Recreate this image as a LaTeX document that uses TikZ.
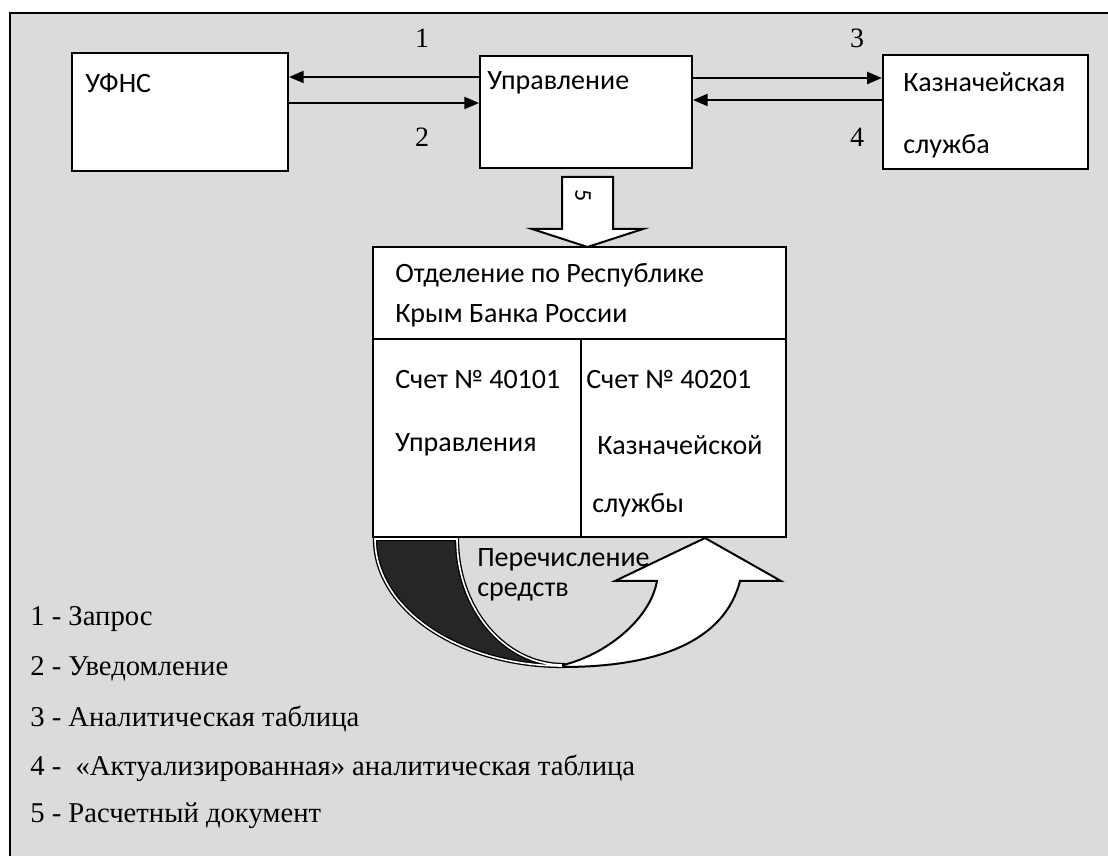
\documentclass[tikz,border=0pt]{standalone}
\usepackage{fontspec}
\setmainfont{Liberation Serif}
\newfontfamily\calfont{Carlito}
\usetikzlibrary{arrows.meta}

\tikzset{
  box/.style={draw, fill=white, line width=1.5pt, minimum width=#1, inner sep=0pt},
  arr/.style={-{Triangle[length=11pt,width=9pt]}, line width=1.6pt},
  txt/.style={font=\calfont\fontsize{21}{25}\selectfont, anchor=west, inner sep=0pt},
  num/.style={font=\fontsize{21}{25}\selectfont, inner sep=0pt},
  leg/.style={font=\fontsize{21.5}{25}\selectfont, anchor=west, inner sep=0pt}
}

\begin{document}
\begin{tikzpicture}[x=0.75pt, y=0.75pt]
  \useasboundingbox (0,0) rectangle (1108,856);
  \fill [black!14] (10,0) rectangle (1108,843);
  \draw [line width=1.5pt, black] (10,0)--(10,843)--(1108,843);

  \node [box=162pt, minimum height=88.5pt] (ufns) at (180,744) {};
  \node [box=159pt, minimum height=84pt] (upr) at (586,744) {};
  \node [box=154pt, minimum height=85pt] (kazn) at (985.5,744) {};
  \node [txt] (ufnst) at (85,773) {УФНС};
  \node [txt] (uprt) at (487,773) {Управление};
  \node [txt] (kaznt) at (903,774) {Казначейская};
  \node [txt] (kaznt2) at (903,710) {служба};

  \draw [arr] ([yshift=26.25pt]upr.west) -- ([yshift=26.25pt]ufns.east);
  \draw [arr] ([yshift=6.75pt]ufns.east) -- ([yshift=6.75pt]upr.west);
  \draw [arr] ([yshift=25.5pt]upr.east) -- ([yshift=25.5pt]kazn.west);
  \draw [arr] ([yshift=9pt]kazn.west) -- ([yshift=9pt]upr.east);
  \foreach \n/\x/\y in {1/422/818, 2/422/719, 3/857/818, 4/857/719} {
    \node [num] (lab\n) at (\x,\y) {\n};
  }

  \node [box=309.75pt, minimum height=217.5pt] (bank) at (579.5,464) {};
  \draw [line width=1.5pt] (bank.west |- 0,517)--(bank.east |- 0,517);
  \draw [line width=1.5pt] (581,517)--(bank.south -| 581,0);
  \node [txt] (bankt1) at (395,581) {Отделение по Республике};
  \node [txt] (bankt2) at (395,540) {Крым Банка России};
  \node [txt] (acc1) at (395,476) {Счет № 40101};
  \node [txt] (acc1b) at (395,411) {Управления};
  \node [txt] (acc2) at (586,476) {Счет № 40201};
  \node [txt] (acc2b) at (597,411) {Казначейской};
  \node [txt] (acc2c) at (592,351) {службы};

  \draw [line width=1.5pt, fill=white, line join=miter]
    (562,679)--(613,679)--(613,627)--(643,627)--(587.5,609)--(532,627)--(562,627)--cycle;
  \node [font=\calfont\fontsize{18}{20}\selectfont, rotate=-90, inner sep=0pt] (five) at (583,660) {5};

  \draw [line width=1pt, double=white, double distance=1.2pt, fill=black!85]
    (375,317) arc [start angle=180, end angle=270, x radius=188, y radius=127]
    -- (563,191) arc [start angle=270, end angle=180, x radius=106, y radius=126] -- cycle;
  \draw [line width=1.5pt, fill=white, line join=miter]
    (563,191) .. controls (605,201) and (650,236) .. (657,275) -- (615,275) -- (705,318)
    -- (781,275) -- (740,275) .. controls (725,216) and (660,189) .. (563,189) -- cycle;
  \node [txt] (perech) at (477,296) {Перечисление};
  \node [txt] (sredstv) at (477,264) {средств};

  \foreach \i/\y/\t in {1/237/Запрос, 2/187/Уведомление, 3/137/Аналитическая таблица,
      4/88/ «Актуализированная» аналитическая таблица, 5/40/Расчетный документ} {
    \node [leg] (leg\i) at (30,\y) {\i\ -\ \t};
  }
\end{tikzpicture}
\end{document}
